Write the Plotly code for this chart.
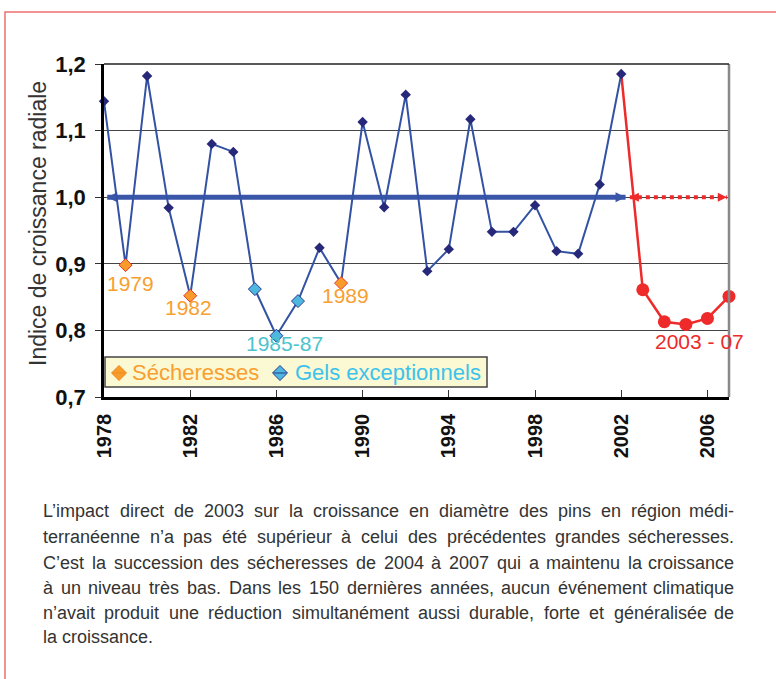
import plotly.graph_objects as go

# ---------------- data ----------------
years_main = list(range(1978, 2003))
index_main = [1.144, 0.898, 1.182, 0.984, 0.852, 1.080, 1.068, 0.862, 0.792, 0.844,
              0.924, 0.871, 1.113, 0.985, 1.154, 0.889, 0.922, 1.117, 0.948, 0.948,
              0.988, 0.919, 0.915, 1.019, 1.185]
years_post = [2003, 2004, 2005, 2006, 2007]
index_post = [0.861, 0.813, 0.809, 0.818, 0.851]
drought_years = [1979, 1982, 1989]
frost_years = [1985, 1986, 1987]
baseline = 1.0
ref_span = [1978.15, 2002.2]
post_span = [2002.4, 2006.9]
x_ticks = [1978, 1982, 1986, 1990, 1994, 1998, 2002, 2006]
y_ticks = [0.7, 0.8, 0.9, 1.0, 1.1, 1.2]
y_ticklabels = ["0,7", "0,8", "0,9", "1,0", "1,1", "1,2"]
period_labels = ["1979", "1982", "1985-87", "1989", "2003 - 07"]
period_label_years = [1979, 1982, 1986, 1989, 2005]
legend_names = ["Sécheresses", "Gels exceptionnels"]
y_title = "Indice de croissance radiale"
caption_lines = [
    "L’impact direct de 2003 sur la croissance en diamètre des pins en région médi-",
    "terranéenne n’a pas été supérieur à celui des précédentes grandes sécheresses.",
    "C’est la succession des sécheresses de 2004 à 2007 qui a maintenu la croissance",
    "à un niveau très bas. Dans les 150 dernières années, aucun événement climatique",
    "n’avait produit une réduction simultanément aussi durable, forte et généralisée de",
    "la croissance.",
]

# ---------------- layout helpers ----------------
W, H = 776, 679
L, R, T, B = 104, 729, 64, 397


def px_x(px):
    return (px - L) / (R - L)


def px_y(py):
    return (B - py) / (B - T)


lookup = dict(zip(years_main + years_post, index_main + index_post))

BLUE = "#3352A3"
NAVY = "#27287A"
RED = "#EE2A2A"
ORANGE = "#F7A030"
CYAN = "#3CC3EA"
TEAL = "#4CC3CB"
FONT = "Liberation Sans, Arial, sans-serif"

DROUGHT_FILL, DROUGHT_LINE = "#F99B2A", "#E8352A"
FROST_FILL, FROST_LINE = "#4EB7DF", "#2A3A8A"

fig = go.Figure()

# reference-period arrow (blue) and post-2002 dotted arrow (red)
fig.add_trace(go.Scatter(
    x=ref_span, y=[baseline, baseline], mode="lines+markers",
    line=dict(color="#3A56A8", width=5),
    marker=dict(symbol=["arrow-left", "arrow-right"], size=10, color="#3A56A8"),
    showlegend=False, hoverinfo="skip", cliponaxis=False))
fig.add_trace(go.Scatter(
    x=post_span, y=[baseline, baseline], mode="lines+markers",
    line=dict(color=RED, width=4, dash="dot"),
    marker=dict(symbol=["arrow-left", "arrow-right"], size=9, color=RED),
    showlegend=False, hoverinfo="skip", cliponaxis=False))

# red line 2002 -> 2007
fig.add_trace(go.Scatter(
    x=[years_main[-1]] + years_post, y=[index_main[-1]] + index_post,
    mode="lines", line=dict(color=RED, width=2.5),
    showlegend=False, hoverinfo="skip", cliponaxis=False))
fig.add_trace(go.Scatter(
    x=years_post, y=index_post, mode="markers",
    marker=dict(symbol="circle", size=13, color=RED),
    showlegend=False, cliponaxis=False))

# main blue series
fig.add_trace(go.Scatter(
    x=years_main, y=index_main, mode="lines+markers",
    line=dict(color=BLUE, width=2),
    marker=dict(symbol="diamond", size=8, color=NAVY),
    showlegend=False, cliponaxis=False))

# highlighted years
fig.add_trace(go.Scatter(
    x=drought_years, y=[lookup[y] for y in drought_years], mode="markers",
    marker=dict(symbol="diamond", size=10, color=DROUGHT_FILL,
                line=dict(color=DROUGHT_LINE, width=1)),
    name=legend_names[0], showlegend=False, cliponaxis=False))
fig.add_trace(go.Scatter(
    x=frost_years, y=[lookup[y] for y in frost_years], mode="markers",
    marker=dict(symbol="diamond", size=10, color=FROST_FILL,
                line=dict(color=FROST_LINE, width=1)),
    name=legend_names[1], showlegend=False, cliponaxis=False))

annotations = []
shapes = []

# period labels
label_colors = [ORANGE, ORANGE, TEAL, ORANGE, RED]
label_shifts = [(5, -18), (-2, -12), (8, -8), (4, -12), (14, -17)]
for txt, yr, col, (dx, dy) in zip(period_labels, period_label_years, label_colors, label_shifts):
    annotations.append(dict(
        x=yr, y=lookup[yr], xref="x", yref="y", text=txt, showarrow=False,
        xanchor="center", yanchor="middle", xshift=dx, yshift=dy,
        font=dict(family=FONT, size=21, color=col)))

# y axis title
annotations.append(dict(
    x=px_x(38), y=px_y(224), xref="paper", yref="paper", text=y_title,
    textangle=-90, showarrow=False, xanchor="center", yanchor="middle",
    font=dict(family=FONT, size=23, color="#333")))

# ---------------- legend box (drawn) ----------------
shapes.append(dict(type="rect", xref="paper", yref="paper",
                   x0=px_x(105), x1=px_x(487), y0=px_y(387), y1=px_y(357),
                   fillcolor="#FBF8D4", line=dict(color="#444", width=1.5),
                   layer="above"))


def diamond_path(cx, cy, r):
    pts = [(cx, cy - r), (cx + r, cy), (cx, cy + r), (cx - r, cy)]
    return "M " + " L ".join("%f,%f" % (px_x(a), px_y(b)) for a, b in pts) + " Z"


for cx, fill, edge, txt, tx, col in [
        (119, DROUGHT_FILL, "#EE8A20", legend_names[0], 131, ORANGE),
        (280, FROST_FILL, FROST_LINE, legend_names[1], 294, CYAN)]:
    shapes.append(dict(type="path", xref="paper", yref="paper",
                       path=diamond_path(cx, 373, 7.5), fillcolor=fill,
                       line=dict(color=edge, width=1), layer="above"))
    shapes.append(dict(type="line", xref="paper", yref="paper",
                       x0=px_x(cx - 6.5), x1=px_x(cx + 6.5), y0=px_y(373), y1=px_y(373),
                       line=dict(color=edge, width=1), layer="above"))
    annotations.append(dict(x=px_x(tx), y=px_y(372), xref="paper", yref="paper",
                            text=txt, showarrow=False, xanchor="left", yanchor="middle",
                            borderpad=0, font=dict(family=FONT, size=22, color=col)))

# ---------------- caption (justified by word placement) ----------------
ARIAL = {' ': 278, '.': 278, ',': 278, '-': 333, '’': 222, "'": 191,
         'a': 556, 'b': 556, 'c': 500, 'd': 556, 'e': 556, 'f': 278, 'g': 556,
         'h': 556, 'i': 222, 'j': 222, 'k': 500, 'l': 222, 'm': 833, 'n': 556,
         'o': 556, 'p': 556, 'q': 556, 'r': 333, 's': 500, 't': 278, 'u': 556,
         'v': 500, 'w': 722, 'x': 500, 'y': 500, 'z': 500,
         'é': 556, 'è': 556, 'ê': 556, 'à': 556, 'â': 556,
         'C': 722, 'D': 722, 'L': 556}
CAP_SIZE = 18
CAP_X0, CAP_X1 = 42, 735
cap_y = [511, 537, 563, 588, 613, 637]


def tw(s):
    return sum(ARIAL.get(ch, 556) for ch in s) * CAP_SIZE / 1000.0


cap_font = dict(family=FONT, size=CAP_SIZE, color="#333")
for i, line in enumerate(caption_lines):
    yy = px_y(cap_y[i])
    if i == len(caption_lines) - 1:
        annotations.append(dict(x=px_x(CAP_X0), y=yy, xref="paper", yref="paper",
                                text=line, showarrow=False, xanchor="left",
                                yanchor="middle", borderpad=0, font=cap_font))
        continue
    words = line.split(" ")
    widths = [tw(w) for w in words]
    gap = (CAP_X1 - CAP_X0 - sum(widths)) / (len(words) - 1)
    cur = CAP_X0
    for j, (w, wd) in enumerate(zip(words, widths)):
        if j == len(words) - 1:
            annotations.append(dict(x=px_x(CAP_X1), y=yy, xref="paper", yref="paper",
                                    text=w, showarrow=False, xanchor="right",
                                    yanchor="middle", borderpad=0, font=cap_font))
        else:
            annotations.append(dict(x=px_x(cur), y=yy, xref="paper", yref="paper",
                                    text=w, showarrow=False, xanchor="left",
                                    yanchor="middle", borderpad=0, font=cap_font))
        cur += wd + gap

shapes += [
    # outer red frame
    dict(type="rect", xref="paper", yref="paper", x0=px_x(5), y0=px_y(740),
         x1=px_x(800), y1=px_y(12), line=dict(color="#EE7070", width=1.5)),
    # right border & top border of plot
    dict(type="line", xref="paper", yref="paper", x0=1, x1=1, y0=0, y1=1,
         line=dict(color="#888", width=2.5)),
    dict(type="line", xref="paper", yref="paper", x0=0, x1=1, y0=1, y1=1,
         line=dict(color="#222", width=1.5)),
]

fig.update_layout(
    width=W, height=H, autosize=False,
    margin=dict(l=L, r=W - R, t=T, b=H - B, pad=0),
    paper_bgcolor="white", plot_bgcolor="white",
    annotations=annotations, shapes=shapes,
    showlegend=False,
    xaxis=dict(range=[1978, 2007], tickvals=x_ticks, ticks="inside", ticklen=7,
               tickcolor="#333", tickwidth=1, tickangle=-90, showgrid=False,
               zeroline=False, showline=True, linecolor="black", linewidth=2.5,
               ticklabelstandoff=6,
               tickfont=dict(family=FONT, size=20, color="#111", weight="bold")),
    yaxis=dict(range=[0.7, 1.2], tickvals=y_ticks, ticktext=y_ticklabels,
               ticks="outside", ticklen=6, tickcolor="#333", tickwidth=1,
               showgrid=True, gridcolor="#444", gridwidth=1, zeroline=False,
               showline=True, linecolor="black", linewidth=2.5,
               ticklabelstandoff=5,
               tickfont=dict(family=FONT, size=22, color="#111", weight="bold")),
)

fig.write_html("out.html", config={"displayModeBar": False},
               post_script="document.body.style.margin='0';document.body.style.overflow='hidden';")
